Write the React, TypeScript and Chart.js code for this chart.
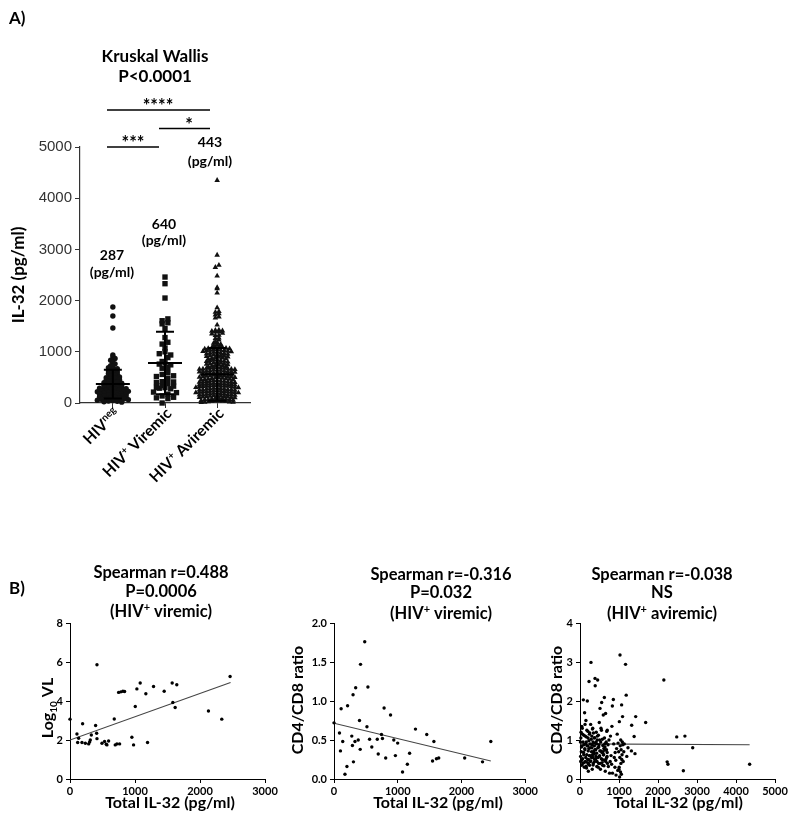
import React, { useEffect, useRef } from 'react';
import { Chart, registerables } from 'chart.js';

Chart.register(...registerables);

const FONT = 'Lato, "Open Sans", Arial, sans-serif';
const TICK_FONT_A = '"Liberation Sans", Arial, sans-serif';

// ---------------- Panel A data ----------------
const groupMedianLabels = ['287', '640', '443'];

const hivNegIL32 = [
  1875, 1700, 1465, 940, 905, 870, 835, 790, 765, 730,
  712, 690, 668, 655, 634, 612, 598, 575, 561, 540,
  523, 508, 495, 482, 470, 458, 446, 433, 421, 410,
  398, 386, 377, 365, 356, 345, 337, 326, 318, 309,
  301, 294, 287, 281, 274, 266, 259, 251, 243, 236,
  228, 221, 213, 206, 199, 191, 184, 176, 169, 161,
  154, 146, 139, 131, 124, 116, 108, 101, 93, 86,
  78, 70, 63, 55, 47, 40, 32, 24, 17,
];

const viremicIL32 = [
  0, 86, 101, 112, 137, 172, 203, 213, 279, 289,
  299, 305, 329, 340, 380, 400, 411, 416, 482, 517,
  532, 558, 593, 679, 694, 745, 760, 786, 811, 887,
  938, 963, 999, 1075, 1151, 1186, 1278, 1455, 1546, 1567,
  1607, 1643, 2050, 2330, 2460,
];
const viremicRatio = [
  0.72, 0.59, 0.36, 0.90, 0.48, 0.06, 0.16, 0.94, 0.55, 0.43,
  1.08, 0.22, 0.48, 1.17, 0.50, 0.75, 0.38, 1.47, 1.76, 0.67,
  1.18, 0.51, 0.41, 0.51, 0.32, 0.57, 0.52, 0.91, 0.27, 0.82,
  0.50, 0.30, 0.46, 0.09, 0.19, 0.33, 0.64, 0.57, 0.23, 0.48,
  0.26, 0.27, 0.27, 0.22, 0.48,
];

const aviremicIL32 = [
  12, 18, 27, 34, 41, 52, 63, 71, 86, 96,
  104, 111, 118, 126, 133, 139, 147, 152, 161, 168, 176, 188, 193,
  201, 207, 214, 219, 226, 231, 238, 246, 251, 259, 266, 273, 282, 292,
  302, 308, 314, 322, 327, 333, 341, 348, 355, 361, 369, 376, 385, 390,
  403, 409, 417, 422, 431, 436, 442, 453, 458, 463, 471, 478, 486, 494,
  502, 509, 513, 524, 531, 538, 546, 556, 561, 567, 574, 582, 589, 597,
  605, 611, 618, 624, 633, 641, 648, 656, 662, 671, 679, 686, 693, 699,
  704, 712, 719, 727, 734, 742, 751, 758, 766, 773, 781, 789, 796,
  803, 811, 818, 830, 833, 841, 849, 855, 864, 871, 879, 888, 896,
  902, 909, 917, 924, 932, 939, 946, 954, 961, 969, 976, 984, 991, 998,
  1004, 1009, 1015, 1021, 1026, 1032, 1038, 1044, 1049, 1055, 1061, 1067, 1072, 1078, 1085, 1091, 1098,
  1108, 1122, 1135, 1150, 1168, 1185, 1200, 1230, 1262, 1270, 1318, 1325, 1352, 1365, 1388, 1395, 1402, 1410, 1420, 1428,
  1525, 1660, 1684, 1720, 1745, 1775, 1790, 1860, 2150, 2235, 2255, 2480, 2650, 2690, 2890, 4350,
  15, 22, 38, 47, 58, 67, 79, 91, 99, 108,
  122, 129, 143, 157, 164, 172, 181, 197, 204, 211,
  223, 229, 242, 255, 262, 277, 287, 296, 305, 318,
  331, 337, 345, 352, 366, 372, 381, 394, 406, 413,
  426, 447, 467, 482, 498, 506, 519, 535, 549, 571,
  586, 602, 615, 628, 645, 659, 667, 683, 697, 45,
];
const aviremicRatio: (number | null)[] = [
  0.95, 0.45, 1.20, 0.70, 0.48, 0.85, 1.15, 0.40, 2.03, 0.62,
  0.88, 0.30, 1.70, 0.75, 1.10, 0.45, 0.55, 1.50, 0.95, 0.28, 1.25, 2.00, 0.42,
  0.85, 1.05, 0.20, 0.50, 0.78, 2.50, 0.60, 0.35, 1.18, 0.90, 0.45, 1.40, 2.99, 0.55,
  1.10, 0.80, 0.25, 0.62, 1.30, 0.95, 0.40, 0.68, 0.72, 1.05, 0.85, 0.50, 2.58, 2.39,
  0.75, 0.58, 1.20, 0.90, 0.32, 0.45, 1.00, 2.54, 0.80, 0.55, 1.12, 0.40, 0.88, 1.45,
  0.60, 0.72, 1.81, 0.25, 0.95, 1.30, 0.52, 1.96, 0.68, 0.42, 1.02, 0.35, 0.70, 1.64,
  0.62, 0.78, 0.48, 2.09, 0.90, 0.82, 0.20, 1.68, 0.50, 0.95, 0.75, 1.22, 0.58, 1.25,
  0.40, null, 0.88, 0.32, null, 1.00, null, 0.15, null, 0.45, 1.10, null, 0.60,
  null, 0.38, 1.35, 1.87, 0.15, null, null, 2.04, 0.90, null, 0.55, null, 0.30,
  0.68, null, 0.48, 0.10, null, 0.78, null, 1.15, null, 0.22, 0.92, null, 0.70, 0.25,
  0.30, 1.47, 0.05, 0.55, 3.18, 0.85, 0.18, 1.00, 0.40, 0.75, 0.12, 1.90, 0.50, 0.62, 0.95, 1.60, 0.88,
  0.45, 0.70, 0.90, null, 2.94, 2.15, 0.58, 0.80, null, null, 0.72, 1.38, null, null, 1.09, null, null, 0.65, null, 1.60,
  null, null, 1.45, null, null, null, null, null, 2.54, 0.44, 0.38, 1.08, 0.21, 1.10, 0.80, 0.38,
  0.58, 1.05, 0.82, 0.35, 1.30, 0.52, 0.95, 0.68, 1.12, 0.42,
  0.78, 1.40, 0.90, 0.33, 1.08, 0.62, 0.85, 0.50, 1.22, 0.72,
  0.38, 0.98, 1.15, 0.60, 0.80, 0.46, 1.02, 0.70, 0.88, 1.28,
  0.55, 0.36, 1.18, 0.92, 0.64, 0.44, 1.06, 0.76, 0.52, 0.95,
  0.66, 1.10, 0.30, 0.82, 0.58, 1.00, 0.40, 0.72, 1.25, 0.50,
  0.86, 0.62, 0.34, 1.05, 0.74, 0.45, 0.92, 0.55, 0.68, 1.35,
];

// mean and SD bars
const errCenter = [370, 780, 560];
const errUpper = [650, 1390, 1075];
const errLower = [90, 170, 45];

// ---------------- Panel B data ----------------
const vlIL32 = [
  0, 107, 118, 133, 184, 194, 236, 287, 302, 312,
  328, 394, 410, 415, 415, 492, 532, 558, 568, 594,
  681, 696, 722, 748, 763, 783, 814, 840, 952, 978,
  1004, 1029, 1080, 1167, 1193, 1285, 1449, 1572, 1582, 1618,
  1643, 2130, 2335, 2463,
];
const vlLog = [
  3.07, 2.31, 1.87, 2.09, 1.87, 2.83, 1.83, 1.80, 1.90, 2.00,
  2.26, 2.74, 2.35, 2.07, 5.86, 1.83, 1.92, 1.78, 1.75, 1.95,
  3.08, 1.75, 1.80, 4.44, 1.80, 4.47, 4.50, 4.49, 2.14, 1.75,
  3.72, 4.62, 4.92, 4.37, 1.87, 4.74, 4.50, 4.92, 3.92, 3.67,
  4.83, 3.49, 3.07, 5.26,
];
const fit1X = [0, 2470];
const fit1Y = [2.0, 4.95];
const fit2X = [0, 2460];
const fit2Y = [0.715, 0.23];
const fit3X = [0, 4350];
const fit3Y = [0.9, 0.88];

// ---------------- helpers ----------------
type Part = { t: string; s?: 'sup' | 'sub' };

function drawRich(
  ctx: CanvasRenderingContext2D,
  parts: Part[],
  x: number,
  y: number,
  size: number,
  align: 'left' | 'center' | 'right' = 'center',
  weight = 'bold',
  family = FONT,
) {
  const main = `${weight} ${size}px ${family}`;
  const small = `${weight} ${Math.round(size * 0.64)}px ${family}`;
  let total = 0;
  const ws = parts.map((p) => {
    ctx.font = p.s ? small : main;
    const w = ctx.measureText(p.t).width;
    total += w;
    return w;
  });
  let cx = align === 'center' ? x - total / 2 : align === 'right' ? x - total : x;
  ctx.textAlign = 'left';
  ctx.textBaseline = 'alphabetic';
  ctx.fillStyle = '#000';
  parts.forEach((p, i) => {
    ctx.font = p.s ? small : main;
    const dy = p.s === 'sup' ? -size * 0.36 : p.s === 'sub' ? size * 0.22 : 0;
    ctx.fillText(p.t, cx, y + dy);
    cx += ws[i];
  });
}

function rotated(ctx: CanvasRenderingContext2D, x: number, y: number, angle: number, fn: () => void) {
  ctx.save();
  ctx.translate(x, y);
  ctx.rotate(angle);
  fn();
  ctx.restore();
}

function swarmOffsets(values: number[], bin: number, step: number): number[] {
  const groups = new Map<number, number[]>();
  values.forEach((v, i) => {
    const k = Math.floor(v / bin);
    if (!groups.has(k)) groups.set(k, []);
    groups.get(k)!.push(i);
  });
  const off = new Array(values.length).fill(0);
  groups.forEach((idx) => {
    idx.sort((a, b) => values[b] - values[a]);
    const n = idx.length;
    idx.forEach((i, j) => {
      let pos: number;
      if (n % 2 === 1) {
        const r = Math.ceil(j / 2);
        pos = j % 2 === 1 ? -r : r;
      } else {
        const r = Math.floor(j / 2) + 0.5;
        pos = j % 2 === 0 ? r : -r;
      }
      off[i] = pos * step;
    });
  });
  return off;
}

// ---------------- Panel A ----------------
const A_W = 300;
const A_H = 540;

function makePanelA(canvas: HTMLCanvasElement) {
  const offNeg = swarmOffsets(hivNegIL32, 55, 0.085);
  const offVir = swarmOffsets(viremicIL32, 100, 0.11);
  const offAvi = swarmOffsets(aviremicIL32, 50, 0.068);

  const xLabels: Part[][] = [
    [{ t: 'HIV' }, { t: 'neg', s: 'sup' }],
    [{ t: 'HIV' }, { t: '+', s: 'sup' }, { t: ' Viremic' }],
    [{ t: 'HIV' }, { t: '+', s: 'sup' }, { t: ' Aviremic' }],
  ];

  const plugin = {
    id: 'panelA',
    afterDatasetsDraw(chart: any) {
      const { ctx, scales } = chart;
      const xs = scales.x;
      const ys = scales.y;
      ctx.save();
      ctx.strokeStyle = '#000';
      ctx.lineWidth = 2;
      for (let g = 0; g < 3; g++) {
        const cx = xs.getPixelForValue(g + 1);
        const yc = ys.getPixelForValue(errCenter[g]);
        const yu = ys.getPixelForValue(errUpper[g]);
        const yl = ys.getPixelForValue(errLower[g]);
        ctx.beginPath();
        ctx.moveTo(cx - 17, yc);
        ctx.lineTo(cx + 17, yc);
        ctx.moveTo(cx - 9, yu);
        ctx.lineTo(cx + 9, yu);
        ctx.moveTo(cx - 9, yl);
        ctx.lineTo(cx + 9, yl);
        ctx.moveTo(cx, yu);
        ctx.lineTo(cx, yl);
        ctx.stroke();
      }
      ctx.restore();
    },
    afterDraw(chart: any) {
      const { ctx, scales } = chart;
      const xs = scales.x;
      ctx.save();
      drawRich(ctx, [{ t: 'A)' }], 9, 24, 17, 'left');
      drawRich(ctx, [{ t: 'Kruskal Wallis' }], 155, 62, 17);
      drawRich(ctx, [{ t: 'P<0.0001' }], 155, 82, 17);

      ctx.strokeStyle = '#000';
      ctx.lineWidth = 1.5;
      const sig: [number, number, number, string, number][] = [
        [107, 210, 110, '****', 158],
        [159, 210, 128.5, '*', 189],
        [107, 159, 147, '***', 133],
      ];
      sig.forEach(([x1, x2, y, s, sx]) => {
        ctx.beginPath();
        ctx.moveTo(x1, y);
        ctx.lineTo(x2, y);
        ctx.stroke();
        drawRich(ctx, [{ t: s }], sx, y + 2, 18);
      });

      const ann: [number, number, number][] = [
        [112, 260, 277],
        [164, 229, 245],
        [210, 147, 166],
      ];
      ann.forEach(([cx, b1, b2], i) => {
        drawRich(ctx, [{ t: groupMedianLabels[i] }], cx, b1, 14);
        drawRich(ctx, [{ t: '(pg/ml)' }], cx, b2, 14);
      });

      for (let g = 0; g < 3; g++) {
        const tx = xs.getPixelForValue(g + 1);
        rotated(ctx, tx + 4, 411, -Math.PI / 4, () => drawRich(ctx, xLabels[g], 0, 5, 15.5, 'right'));
      }
      rotated(ctx, 18, 275, -Math.PI / 2, () => drawRich(ctx, [{ t: 'IL-32 (pg/ml)' }], 0, 6, 17));
      ctx.restore();
    },
  };

  return new Chart(canvas, {
    type: 'scatter',
    data: {
      datasets: [
        {
          data: hivNegIL32.map((v, i) => ({ x: 1 + offNeg[i], y: v })),
          pointStyle: 'circle',
          pointRadius: 2.7,
          backgroundColor: '#111',
          borderColor: '#111',
          borderWidth: 0,
          clip: false,
        } as any,
        {
          data: viremicIL32.map((v, i) => ({ x: 2 + offVir[i], y: v })),
          pointStyle: 'rect',
          pointRadius: 3.8,
          backgroundColor: '#111',
          borderColor: '#111',
          borderWidth: 0,
          clip: false,
        },
        {
          data: aviremicIL32.map((v, i) => ({ x: 3 + offAvi[i], y: v })),
          pointStyle: 'triangle',
          pointRadius: 3.2,
          backgroundColor: '#111',
          borderColor: '#111',
          borderWidth: 0,
          clip: false,
        },
      ],
    },
    options: {
      animation: false,
      responsive: false,
      events: [],
      layout: { padding: { left: 0, top: 147, right: A_W - 250, bottom: 0 } },
      plugins: { legend: { display: false }, tooltip: { enabled: false } },
      scales: {
        x: {
          type: 'linear',
          min: 0.37,
          max: 3.63,
          afterBuildTicks: (s: any) => {
            s.ticks = [1, 2, 3].map((v) => ({ value: v }));
          },
          ticks: { callback: () => '', autoSkip: false, maxRotation: 0 },
          grid: { drawOnChartArea: false, drawTicks: true, tickLength: 5, color: '#333' },
          border: { display: true, color: '#333', width: 1.2 },
          afterFit: (s: any) => {
            s.height = A_H - 403;
          },
        },
        y: {
          min: 0,
          max: 5000,
          ticks: {
            stepSize: 1000,
            callback: (v: any) => String(v),
            font: { family: TICK_FONT_A, size: 15 },
            color: '#333',
            padding: 3,
          },
          grid: { drawOnChartArea: false, drawTicks: true, tickLength: 5, color: '#333' },
          border: { display: true, color: '#333', width: 1.2 },
          afterFit: (s: any) => {
            s.width = 80;
          },
        },
      },
    },
    plugins: [plugin],
  } as any);
}

// ---------------- Panel B ----------------
const B_TOP = 550;
const B_H = 280;
const AREA_TOP = 623;
const AREA_BOTTOM = 779;

interface CorrCfg {
  canvasLeft: number;
  canvasWidth: number;
  areaLeft: number;
  areaRight: number;
  xs: number[];
  ys: (number | null)[];
  fitX: number[];
  fitY: number[];
  xMax: number;
  xStep: number;
  yMax: number;
  yStep: number;
  yDec: number;
  titleX: number;
  titleLines: Part[][];
  titleBaselines: number[];
  xTitleX: number;
  yTitle: Part[];
  yTitleX: number;
  yTitleY: number;
  showB?: boolean;
}

function makeCorr(canvas: HTMLCanvasElement, c: CorrCfg) {
  const L = c.canvasLeft;
  const plugin = {
    id: 'corrText',
    afterDraw(chart: any) {
      const ctx = chart.ctx;
      ctx.save();
      if (c.showB) drawRich(ctx, [{ t: 'B)' }], 9 - L, 594 - B_TOP, 17, 'left');
      c.titleLines.forEach((parts, i) => drawRich(ctx, parts, c.titleX - L, c.titleBaselines[i] - B_TOP, 16.5));
      drawRich(ctx, [{ t: 'Total IL-32 (pg/ml)' }], c.xTitleX - L, 808 - B_TOP, 16);
      rotated(ctx, c.yTitleX - L, c.yTitleY - B_TOP, -Math.PI / 2, () => drawRich(ctx, c.yTitle, 0, 6, 16));
      ctx.restore();
    },
  };
  const pts = c.xs
    .map((x, i) => ({ x, y: c.ys[i] }))
    .filter((p) => p.y !== null && p.y !== undefined) as { x: number; y: number }[];
  const tickFont = { family: FONT, size: 11, weight: 'bold' as const };
  return new Chart(canvas, {
    type: 'scatter',
    data: {
      datasets: [
        {
          data: pts,
          pointStyle: 'circle',
          pointRadius: 1.7,
          backgroundColor: '#000',
          borderWidth: 0,
          clip: false,
        } as any,
        {
          data: c.fitX.map((x, i) => ({ x, y: c.fitY[i] })),
          showLine: true,
          pointRadius: 0,
          borderColor: '#444',
          borderWidth: 1.1,
          fill: false,
        },
      ],
    },
    options: {
      animation: false,
      responsive: false,
      events: [],
      layout: {
        padding: { left: 0, top: AREA_TOP - B_TOP, right: c.canvasLeft + c.canvasWidth - c.areaRight, bottom: 0 },
      },
      plugins: { legend: { display: false }, tooltip: { enabled: false } },
      scales: {
        x: {
          type: 'linear',
          min: 0,
          max: c.xMax,
          ticks: {
            stepSize: c.xStep,
            callback: (v: any) => String(v),
            font: tickFont,
            color: '#000',
            padding: 2,
            maxRotation: 0,
            autoSkip: false,
          },
          grid: { drawOnChartArea: false, drawTicks: true, tickLength: 4, color: '#000' },
          border: { display: true, color: '#000', width: 1 },
          afterFit: (s: any) => {
            s.height = B_TOP + B_H - AREA_BOTTOM;
          },
        },
        y: {
          type: 'linear',
          min: 0,
          max: c.yMax,
          ticks: {
            stepSize: c.yStep,
            callback: (v: any) => Number(v).toFixed(c.yDec),
            font: tickFont,
            color: '#000',
            padding: 3,
          },
          grid: { drawOnChartArea: false, drawTicks: true, tickLength: 4, color: '#000' },
          border: { display: true, color: '#000', width: 1 },
          afterFit: (s: any) => {
            s.width = c.areaLeft - c.canvasLeft;
          },
        },
      },
    },
    plugins: [plugin],
  } as any);
}

const viremicTitle: Part[] = [{ t: '(HIV' }, { t: '+', s: 'sup' }, { t: ' viremic)' }];
const aviremicTitle: Part[] = [{ t: '(HIV' }, { t: '+', s: 'sup' }, { t: ' aviremic)' }];

const corrConfigs: CorrCfg[] = [
  {
    canvasLeft: 0,
    canvasWidth: 280,
    areaLeft: 70,
    areaRight: 265,
    xs: vlIL32,
    ys: vlLog,
    fitX: fit1X,
    fitY: fit1Y,
    xMax: 3000,
    xStep: 1000,
    yMax: 8,
    yStep: 2,
    yDec: 0,
    titleX: 161,
    titleLines: [[{ t: 'Spearman r=0.488' }], [{ t: 'P=0.0006' }], viremicTitle],
    titleBaselines: [578, 597, 617],
    xTitleX: 170,
    yTitle: [{ t: 'Log' }, { t: '10', s: 'sub' }, { t: ' VL' }],
    yTitleX: 47,
    yTitleY: 708,
    showB: true,
  },
  {
    canvasLeft: 280,
    canvasWidth: 260,
    areaLeft: 334,
    areaRight: 532,
    xs: viremicIL32,
    ys: viremicRatio,
    fitX: fit2X,
    fitY: fit2Y,
    xMax: 3000,
    xStep: 1000,
    yMax: 2,
    yStep: 0.5,
    yDec: 1,
    titleX: 441,
    titleLines: [[{ t: 'Spearman r=-0.316' }], [{ t: 'P=0.032' }], viremicTitle],
    titleBaselines: [580, 598, 619],
    xTitleX: 438,
    yTitle: [{ t: 'CD4/CD8 ratio' }],
    yTitleX: 297,
    yTitleY: 700,
  },
  {
    canvasLeft: 540,
    canvasWidth: 260,
    areaLeft: 580,
    areaRight: 775,
    xs: aviremicIL32,
    ys: aviremicRatio,
    fitX: fit3X,
    fitY: fit3Y,
    xMax: 5000,
    xStep: 1000,
    yMax: 4,
    yStep: 1,
    yDec: 0,
    titleX: 662,
    titleLines: [[{ t: 'Spearman r=-0.038' }], [{ t: 'NS' }], aviremicTitle],
    titleBaselines: [580, 598, 619],
    xTitleX: 678,
    yTitle: [{ t: 'CD4/CD8 ratio' }],
    yTitleX: 556,
    yTitleY: 700,
  },
];

function CanvasChart(props: {
  left: number;
  top: number;
  width: number;
  height: number;
  make: (c: HTMLCanvasElement) => Chart;
}) {
  const ref = useRef<HTMLCanvasElement>(null);
  useEffect(() => {
    if (!ref.current) return;
    const chart = props.make(ref.current);
    return () => chart.destroy();
  }, []);
  return (
    <canvas
      ref={ref}
      width={props.width}
      height={props.height}
      style={{ position: 'absolute', left: props.left, top: props.top, width: props.width, height: props.height }}
    />
  );
}

export default function App() {
  return (
    <div style={{ position: 'absolute', left: 0, top: 0, width: 800, height: 830, background: '#fff' }}>
      <CanvasChart left={0} top={0} width={A_W} height={A_H} make={makePanelA} />
      {corrConfigs.map((c, i) => (
        <CanvasChart
          key={i}
          left={c.canvasLeft}
          top={B_TOP}
          width={c.canvasWidth}
          height={B_H}
          make={(cv) => makeCorr(cv, c)}
        />
      ))}
    </div>
  );
}
